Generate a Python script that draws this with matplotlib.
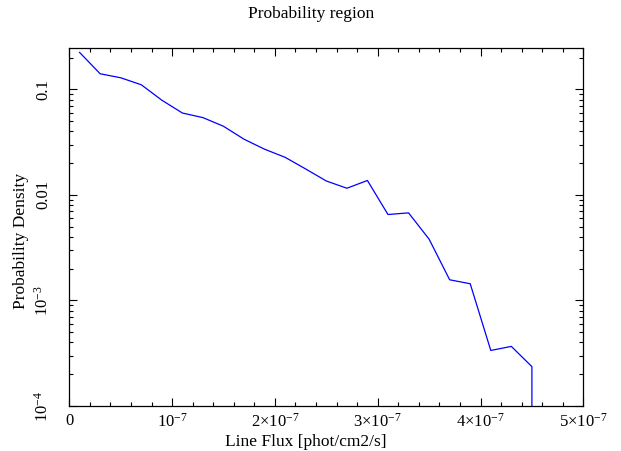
import matplotlib
matplotlib.use("Agg")
import matplotlib.pyplot as plt
from matplotlib.ticker import FixedLocator, LogLocator, NullFormatter

plt.rcParams['font.family'] = ['Liberation Serif', 'DejaVu Serif']
plt.rcParams['mathtext.fontset'] = 'custom'
plt.rcParams['mathtext.rm'] = 'Liberation Serif'
plt.rcParams['mathtext.it'] = 'Liberation Serif:italic'
plt.rcParams['mathtext.bf'] = 'Liberation Serif:bold'

# Data
flux = [1e-8, 3e-8, 5e-8, 7e-8, 9e-8, 1.1e-7, 1.3e-7, 1.5e-7, 1.7e-7, 1.9e-7,
        2.1e-7, 2.3e-7, 2.5e-7, 2.7e-7, 2.9e-7, 3.1e-7, 3.3e-7, 3.5e-7, 3.7e-7,
        3.9e-7, 4.1e-7, 4.3e-7, 4.5e-7, 4.7e-7]
density = [0.224, 0.1406, 0.1288, 0.1106, 0.079, 0.0597, 0.054, 0.0447, 0.0337,
           0.0271, 0.0227, 0.0176, 0.01355, 0.01157, 0.0137, 0.00652, 0.00676,
           0.00381, 0.00157, 0.00144, 0.000336, 0.000367, 0.000236, 0.0]

x_ticks = [0, 1e-7, 2e-7, 3e-7, 4e-7, 5e-7]
x_ticklabels = ['0', r'$10^{-7}$', r'$2{\times}10^{-7}$', r'$3{\times}10^{-7}$',
                r'$4{\times}10^{-7}$', r'$5{\times}10^{-7}$']
y_ticks = [1e-4, 1e-3, 1e-2, 1e-1]
y_ticklabels = [r'$10^{-4}$', r'$10^{-3}$', '0.01', '0.1']

title = 'Probability region'
xlabel = 'Line Flux [phot/cm2/s]'
ylabel = 'Probability Density'

W, H = 621, 451
fig = plt.figure(figsize=(W/100, H/100), dpi=100)
L, R, T, B = 69.3, 583.3, 48.3, 406.0
ax = fig.add_axes([L/W, 1-B/H, (R-L)/W, (B-T)/H])

ax.plot(flux, density, color='#0000ff', lw=0.9)
ax.set_yscale('log')
ax.set_xlim(0, 5e-7)
ax.set_ylim(1e-4, 0.245)

ax.xaxis.set_major_locator(FixedLocator(x_ticks))
ax.set_xticklabels(x_ticklabels)
ax.xaxis.set_minor_locator(FixedLocator([i * 2e-8 for i in range(26)]))
ax.yaxis.set_major_locator(FixedLocator(y_ticks))
ax.set_yticklabels(y_ticklabels)
ax.yaxis.set_minor_locator(LogLocator(base=10, subs=range(2, 10)))
ax.yaxis.set_minor_formatter(NullFormatter())

ax.tick_params(which='both', direction='in', top=True, right=True, color='black', width=0.8)
ax.tick_params(which='major', length=5.5, labelsize=12)
ax.tick_params(which='minor', length=2.7)
ax.tick_params(axis='x', pad=5)
ax.tick_params(axis='y', pad=13)
for lab in ax.get_yticklabels():
    lab.set_rotation(90)
    lab.set_va('center')
for s in ax.spines.values():
    s.set_linewidth(0.9)
    s.set_color('black')

fig.text(311/W, 1-18.3/H, title, ha='center', va='baseline', fontsize=12.5)
fig.text(306/W, 1-446/H, xlabel, ha='center', va='baseline', fontsize=12.5)
fig.text(21/W, 1-241/H, ylabel, ha='center', va='center', rotation=90, fontsize=12.5)

fig.savefig('out.png', dpi=100)
